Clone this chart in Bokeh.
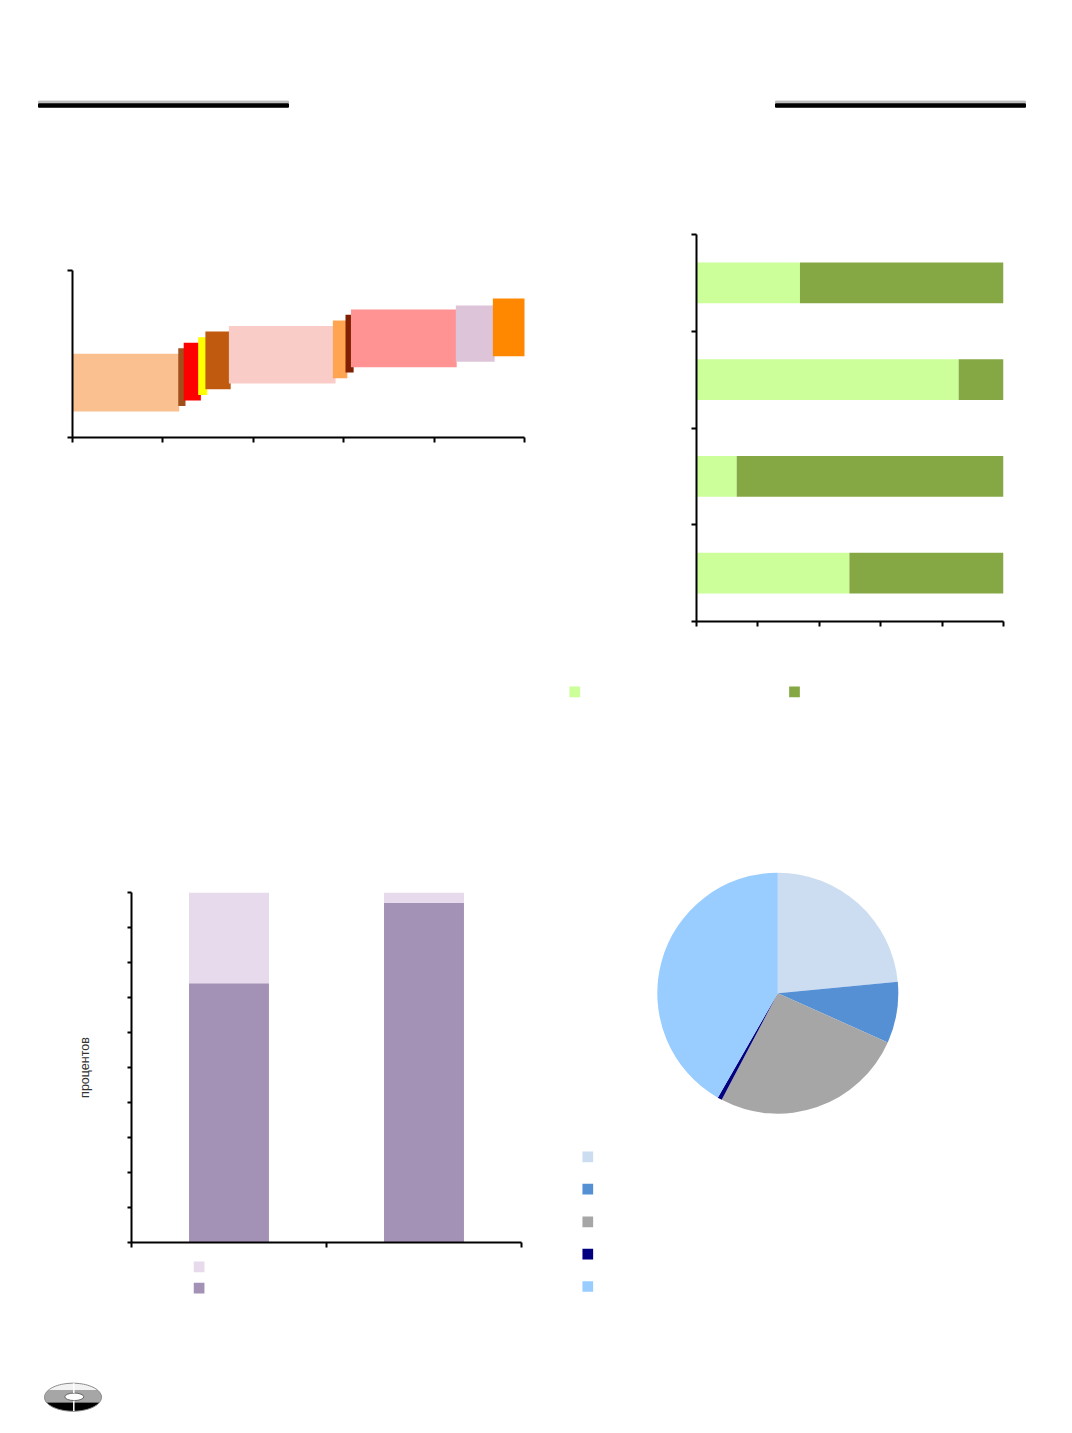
import numpy as np
from bokeh.plotting import figure
from bokeh.models import Range1d, FixedTicker, Spacer
from bokeh.layouts import row, column
from bokeh.embed import file_html
from bokeh.resources import INLINE

# ---------------- data ----------------
# chart 1: variable-width floating bars
c1_left = [0.00, 1.17, 1.23, 1.39, 1.47, 1.73, 2.88, 3.02, 3.08, 4.24, 4.65]
c1_right = [1.18, 1.25, 1.42, 1.49, 1.75, 2.91, 3.04, 3.11, 4.25, 4.67, 5.02]
c1_bottom = [15.6, 18.8, 22.2, 25.5, 28.9, 32.3, 35.5, 38.9, 42.1, 45.3, 48.7]
c1_top = [50.1, 53.5, 56.7, 60.1, 63.5, 66.7, 70.1, 73.5, 76.6, 79.0, 83.2]
c1_colors = ["#FAC090", "#A0501A", "#FF0000", "#FFFF00", "#C05A0E", "#F9CCC8",
             "#FFA552", "#7F2000", "#FF9292", "#DEC4D8", "#FF8800"]
c1_xticks = [0, 1, 2, 3, 4, 5]
c1_yticks = [0, 100]

# chart 2: 100% stacked horizontal bars (top to bottom)
c2_light = [33.7, 85.4, 13.1, 49.8]
c2_dark = [66.3, 14.6, 86.9, 50.2]
c2_colors = ["#CCFF99", "#86A844"]
c2_xticks = [0, 20, 40, 60, 80, 100]
c2_yticks = [0, 1, 2, 3, 4]

# chart 3: 100% stacked vertical bars
c3_dark = [74.1, 97.1]
c3_light = [25.9, 2.9]
c3_colors = ["#E6DAEC", "#A492B6"]
c3_xticks = [0, 1, 2]
c3_yticks = [0, 10, 20, 30, 40, 50, 60, 70, 80, 90, 100]
c3_ylabel = "процентов"

# chart 4: pie (clockwise from 12 o'clock)
pie_values = [23.5, 8.2, 26.0, 0.6, 41.7]
pie_colors = ["#CCDDF2", "#5590D5", "#A6A6A6", "#000080", "#99CCFF"]


# ---------------- helpers ----------------
def pix_fig(x0, x1, y0, y1):
    p = figure(width=int(x1 - x0), height=int(y1 - y0),
               x_range=Range1d(x0, x1), y_range=Range1d(-y1, -y0),
               output_backend="svg", toolbar_location=None, min_border=0,
               x_axis_type=None, y_axis_type=None)
    p.grid.visible = False
    p.outline_line_color = None
    return p


def style_axes(p, xticks, yticks):
    p.xaxis.ticker = FixedTicker(ticks=xticks)
    p.yaxis.ticker = FixedTicker(ticks=yticks)
    p.xaxis.major_label_overrides = {t: "" for t in xticks}
    p.yaxis.major_label_overrides = {t: "" for t in yticks}
    for ax in p.axis:
        ax.axis_line_width = 2
        ax.axis_line_color = "black"
        ax.major_tick_line_width = 2
        ax.major_tick_line_color = "black"
        ax.major_tick_out = 5
        ax.major_tick_in = 0
        ax.minor_tick_line_color = None
        ax.major_label_standoff = 0
    p.grid.visible = False
    p.outline_line_color = None


def ellipse_band(cx, cy, a, b, ya, yb, n=40):
    ys = np.linspace(ya, yb, n)
    half = a * np.sqrt(np.clip(1 - ((ys - cy) / b) ** 2, 0, 1))
    xs = np.concatenate([cx + half, (cx - half)[::-1]])
    yy = np.concatenate([ys, ys[::-1]])
    return list(xs), list(-yy)


def header_rule(p, x0, x1):
    p.quad(left=x0, right=x1, bottom=-102.4, top=-100.6, color="#BDBDBD")
    p.quad(left=x0, right=x1, bottom=-106.7, top=-103.3, color="black")


def solo(f):
    return row(f)


# ---------------- left column (page x 0..540) ----------------
hdrL = pix_fig(0, 540, 0, 250)
header_rule(hdrL, 38, 288)

c1 = figure(width=540, height=210, x_range=Range1d(0, 5), y_range=Range1d(0, 100),
            output_backend="svg", toolbar_location=None,
            min_border_left=72, min_border_right=16, min_border_top=20, min_border_bottom=23)
c1.quad(left=c1_left, right=c1_right, bottom=c1_bottom, top=c1_top,
        fill_color=c1_colors, line_color=None)
style_axes(c1, c1_xticks, c1_yticks)

c3 = figure(width=540, height=385, x_range=Range1d(0, 2), y_range=Range1d(0, 100),
            output_backend="svg", toolbar_location=None,
            min_border_left=131, min_border_right=19, min_border_top=22, min_border_bottom=13)
xc = [i + 0.5 for i in range(len(c3_dark))]
c3.vbar(x=xc, bottom=0, top=c3_dark, width=0.41, fill_color=c3_colors[1], line_color=None)
c3.vbar(x=xc, bottom=c3_dark, top=[d + l for d, l in zip(c3_dark, c3_light)], width=0.41,
        fill_color=c3_colors[0], line_color=None)
style_axes(c3, c3_xticks, c3_yticks)
c3.yaxis.major_tick_out = 4
c3.yaxis.axis_label = c3_ylabel
c3.yaxis.axis_label_standoff = 36
c3.yaxis.axis_label_text_font = "Liberation Sans"
c3.yaxis.axis_label_text_font_size = "12.5px"
c3.yaxis.axis_label_text_font_style = "normal"
c3.yaxis.axis_label_text_color = "#333333"

legL = pix_fig(0, 540, 1255, 1425)
legL.rect(x=[198.6, 198.6], y=[-1266.3, -1287.6], width=10.7, height=10.7,
          fill_color=c3_colors, line_color=None)
# logo
cx, cy, a, b = 72.5, 1396.7, 28.5, 14.0
for ya, yb, col in [(1382.7, 1389.5, "#F2F2F2"), (1389.5, 1402.0, "#A6A6A6"), (1402.0, 1410.7, "#000000")]:
    xs, ys = ellipse_band(cx, cy, a, b, ya, yb)
    legL.patch(xs, ys, fill_color=col, line_color=None)
t = np.linspace(0, 2 * np.pi, 80)
legL.line(list(cx + a * np.cos(t)), list(-(cy + b * np.sin(t))), line_color="#888888", line_width=1)
legL.ellipse(x=73.8, y=-1396.3, width=19, height=7.5, fill_color="white", line_color="#666666", line_width=1)
legL.segment(x0=[73.3, 73.3], y0=[-1382.7, -1400.2], x1=[73.3, 73.3], y1=[-1392.5, -1410.5],
             line_color="white", line_width=1.5)

left = column(solo(hdrL), solo(c1), Spacer(width=540, height=410), solo(c3), solo(legL))

# ---------------- right column (page x 540..1064) ----------------
hdrR = pix_fig(540, 1064, 0, 220)
header_rule(hdrR, 775, 1025)

c2 = figure(width=524, height=420, x_range=Range1d(0, 100), y_range=Range1d(0, 4),
            output_backend="svg", toolbar_location=None,
            min_border_left=156, min_border_right=61, min_border_top=14, min_border_bottom=19)
n2 = len(c2_light)
yc = [n2 - i - 0.5 for i in range(n2)]
c2.hbar(y=yc, left=0, right=c2_light, height=0.42, fill_color=c2_colors[0], line_color=None)
c2.hbar(y=yc, left=c2_light, right=[l + d for l, d in zip(c2_light, c2_dark)], height=0.42,
        fill_color=c2_colors[1], line_color=None)
style_axes(c2, c2_xticks, c2_yticks)

legR = pix_fig(540, 1064, 640, 860)
legR.rect(x=[574.3, 794.0], y=[-691.3, -691.3], width=10.7, height=10.7,
          fill_color=c2_colors, line_color=None)

pie = pix_fig(540, 1064, 860, 1300)
vals = np.array(pie_values, dtype=float)
frac = vals / vals.sum()
cum = np.concatenate([[0.0], np.cumsum(frac)])
starts = list(np.pi / 2 - 2 * np.pi * cum[:-1])
ends = list(np.pi / 2 - 2 * np.pi * cum[1:])
pie.wedge(x=777.3, y=-992.7, radius=120.5, start_angle=starts, end_angle=ends,
          direction="clock", fill_color=pie_colors, line_color=None)
pie.rect(x=[587.3] * 5, y=[-1156.3, -1188.7, -1221.3, -1253.7, -1286.0], width=10.7, height=10.7,
         fill_color=pie_colors, line_color=None)

right = column(solo(hdrR), solo(c2), solo(legR), solo(pie))

page = row(left, right)
open("out.html", "w").write(file_html(page, INLINE))
